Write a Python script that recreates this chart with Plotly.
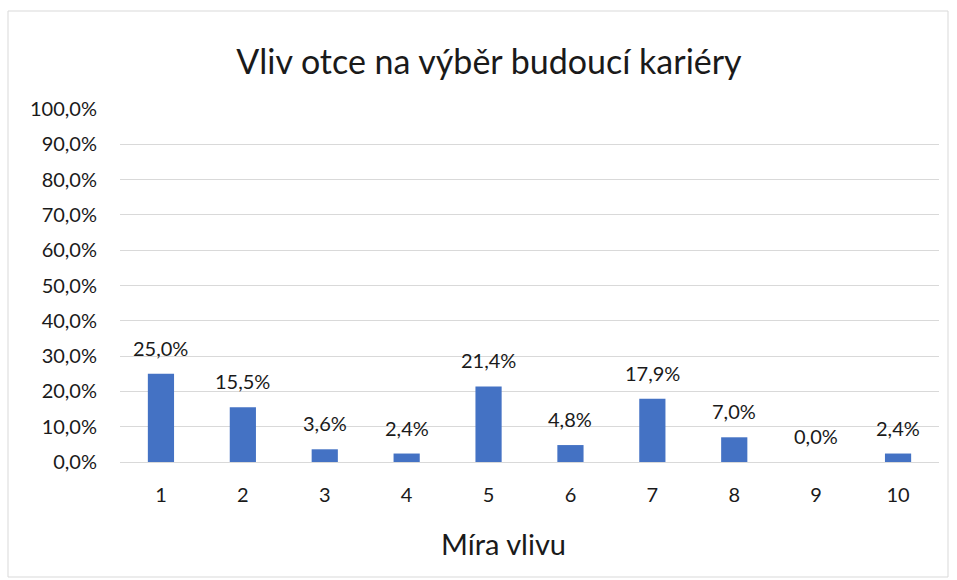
import plotly.graph_objects as go

categories = ["1", "2", "3", "4", "5", "6", "7", "8", "9", "10"]
values_pct = [25.0, 15.5, 3.6, 2.4, 21.4, 4.8, 17.9, 7.0, 0.0, 2.4]
title_text = "Vliv otce na výběr budoucí kariéry"
x_title = "Míra vlivu"

W, H = 957, 580
L, R, T, B = 120, 18, 109, 118
pw, ph = W - L - R, H - T - B

fracs = [v / 100 for v in values_pct]
labels = [f"{v:.1f}%".replace(".", ",") for v in values_pct]

font_family = "Lato, Open Sans, sans-serif"
tc = "#1a1a1a"

fig = go.Figure(go.Bar(
    x=categories, y=fracs,
    marker=dict(color="#4472C4", line=dict(width=0)),
    width=0.32,
    cliponaxis=False,
))

for i, (f, t) in enumerate(zip(fracs, labels)):
    fig.add_annotation(x=i, y=f, text=t, showarrow=False, yanchor="bottom",
                       yshift=12, font=dict(size=20, color=tc, family=font_family))

def px_x(p):
    return (p - L) / pw

def px_y(p):
    return 1 - (p - T) / ph

# x-axis title, centred where the reference places it
fig.add_annotation(text=x_title, xref="paper", yref="paper",
                   x=px_x(503), y=px_y(543), xanchor="center", yanchor="middle",
                   showarrow=False, font=dict(size=29, color=tc, family=font_family))

fig.update_layout(
    width=W, height=H,
    margin=dict(l=L, r=R, t=T, b=B),
    paper_bgcolor="white", plot_bgcolor="white",
    separators=",.",
    font=dict(family=font_family, color=tc),
    title=dict(text=title_text, x=489 / W, xanchor="center", xref="container",
               y=1 - 62 / H, yanchor="middle",
               font=dict(size=34, color=tc, family=font_family)),
    showlegend=False,
    xaxis=dict(type="category", range=[-0.5, len(categories) - 0.5],
               tickfont=dict(size=20, color=tc),
               showline=True, linecolor="#d9d9d9", linewidth=1,
               ticks="outside", ticklen=15, tickcolor="white", showgrid=False),
    yaxis=dict(range=[0, 1.0], dtick=0.1, tickformat=".1%",
               tickfont=dict(size=20, color=tc),
               showgrid=True, gridcolor="#d9d9d9", gridwidth=1,
               zeroline=False, ticks="outside", ticklen=18, tickcolor="white"),
    shapes=[dict(type="rect", xref="paper", yref="paper",
                 x0=px_x(8), x1=px_x(948), y0=px_y(577), y1=px_y(11),
                 line=dict(color="#d9d9d9", width=1), fillcolor="rgba(0,0,0,0)",
                 layer="below")],
)

fig.write_html("out.html", config={"displayModeBar": False},
               post_script="document.body.style.margin='0';document.body.style.overflow='hidden';")
